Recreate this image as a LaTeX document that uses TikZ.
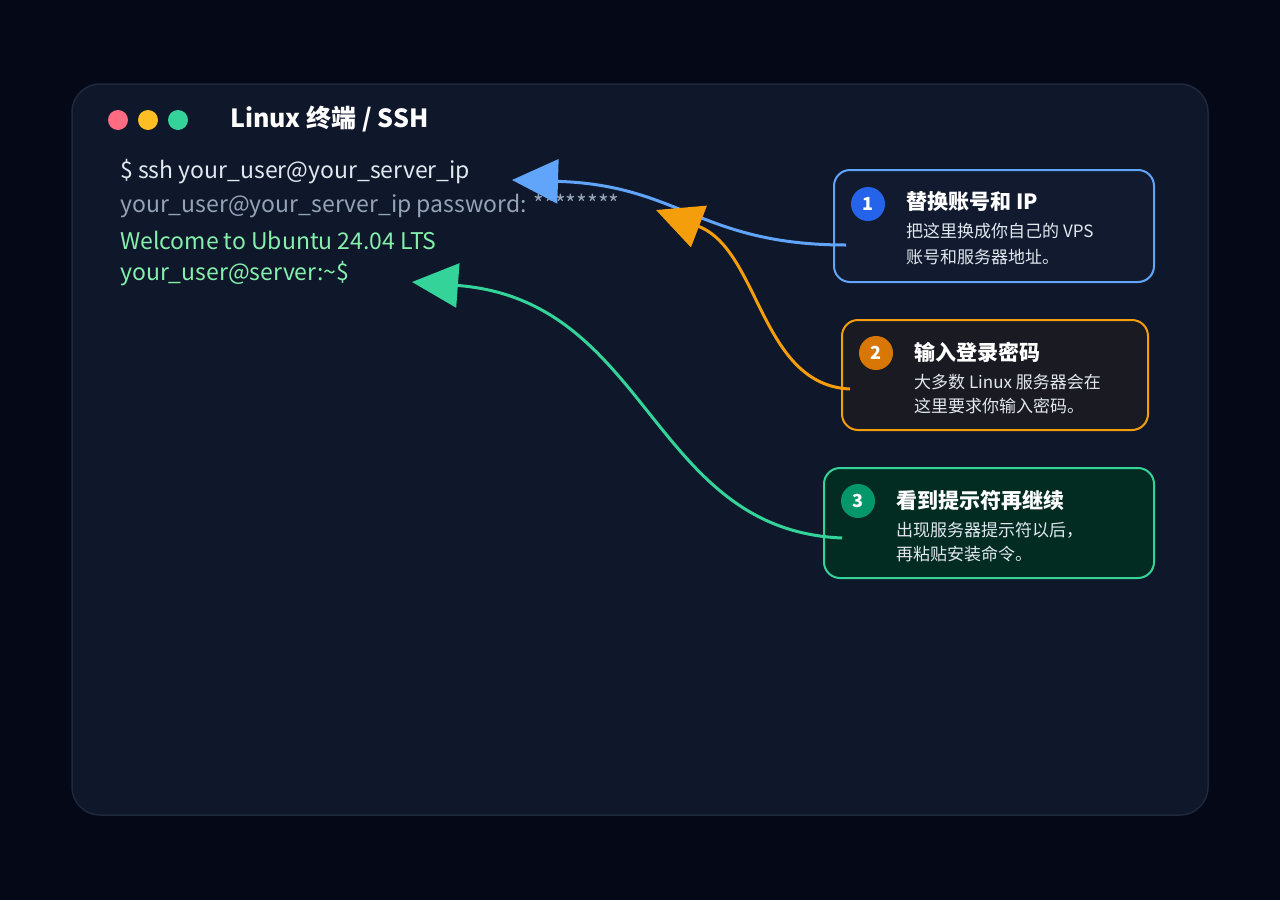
\documentclass[tikz,border=0pt]{standalone}
\usepackage{fontspec}
\setmainfont{Noto Sans CJK SC}
\usetikzlibrary{arrows.meta}
\definecolor{bgc}{HTML}{050816}
\definecolor{winc}{HTML}{0F172A}
\definecolor{winb}{HTML}{1E293B}
\definecolor{bluec}{HTML}{60A5FA}
\definecolor{orangec}{HTML}{F59E0B}
\definecolor{greenc}{HTML}{34D399}
\definecolor{termw}{HTML}{E2E8F0}
\definecolor{termg}{HTML}{94A3B8}
\definecolor{termgr}{HTML}{86EFAC}
\definecolor{redl}{HTML}{FF6B81}
\definecolor{yell}{HTML}{FBBF24}
\definecolor{box1}{HTML}{111A2E}
\definecolor{box2}{HTML}{1A1A22}
\definecolor{box3}{HTML}{022C22}
\definecolor{num1}{HTML}{2563EB}
\definecolor{num2}{HTML}{D97706}
\definecolor{num3}{HTML}{059669}
\begin{document}
\begin{tikzpicture}[x=1pt,y=-1pt,
  term/.style={anchor=west,font=\fontsize{23}{26}\selectfont,inner sep=0},
  box/.style={draw,line width=2pt,rounded corners=16pt},
  num/.style={circle,minimum size=34pt,inner sep=0,text=white,font=\bfseries\fontsize{18}{20}\selectfont},
  btitle/.style={anchor=west,text=white,inner sep=0,font=\bfseries\fontsize{21}{24}\selectfont},
  btext/.style={anchor=west,text=termw,inner sep=0,font=\fontsize{17}{20}\selectfont},
  conn/.style={line width=3pt,-{Triangle[length=46pt,width=44pt]}}]
\fill[bgc] (0,0) rectangle (1280,900);
\useasboundingbox (0,0) rectangle (1280,900);
\draw[winb,fill=winc,line width=1.5pt,rounded corners=28pt] (72,84) rectangle (1208,815);
\fill[redl] (118,120) circle (10);
\fill[yell] (148,120) circle (10);
\fill[greenc] (178,120) circle (10);
\node[anchor=west,text=white,inner sep=0,font=\bfseries\fontsize{25}{28}\selectfont] (title) at (230,119) {Linux 终端 / SSH};
\node[term,text=termw] (l1) at (120,172) {\$ ssh your\_user@your\_server\_ip};
\node[term,text=termg] (l2) at (120,206) {your\_user@your\_server\_ip password: ********};
\node[term,text=termgr] (l3) at (120,240) {Welcome to Ubuntu 24.04 LTS};
\node[term,text=termgr] (l4) at (120,274) {your\_user@server:\textasciitilde\$};
\coordinate (t1) at (512,180);
\coordinate (t2) at (656,210);
\coordinate (t3) at (412,282);
\draw[box,bluec,fill=box1] (834,170) rectangle (1154,282);
\draw[box,orangec,fill=box2] (842,320) rectangle (1148,430);
\draw[box,greenc,fill=box3] (824,468) rectangle (1154,578);
\node[num,fill=num1] (n1) at (868,204) {1};
\node[btitle] (b1) at (906,202) {替换账号和 IP};
\node[btext] at (906,231) {把这里换成你自己的 VPS};
\node[btext] at (906,257) {账号和服务器地址。};
\node[num,fill=num2] (n2) at (876,353) {2};
\node[btitle] (b2) at (914,352) {输入登录密码};
\node[btext] at (914,382) {大多数 Linux 服务器会在};
\node[btext] at (914,406) {这里要求你输入密码。};
\node[num,fill=num3] (n3) at (858,501) {3};
\node[btitle] (b3) at (896,500) {看到提示符再继续};
\node[btext] at (896,530) {出现服务器提示符以后，};
\node[btext] at (896,554) {再粘贴安装命令。};
\coordinate (s1) at (846,245);
\coordinate (s2) at (850,389);
\coordinate (s3) at (842,538);
\draw[conn,bluec] (s1) .. controls (700,245) and (680,185) .. (t1);
\draw[conn,orangec] (s2) .. controls (760,385) and (760,250) .. (t2);
\draw[conn,greenc] (s3) .. controls (650,530) and (650,300) .. (t3);
\end{tikzpicture}
\end{document}
